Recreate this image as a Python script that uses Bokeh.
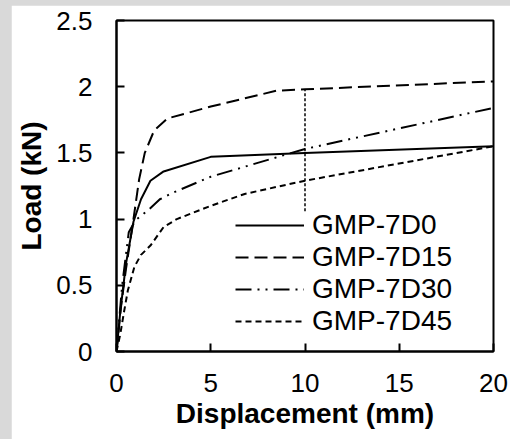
from bokeh.plotting import figure
from bokeh.models import Range1d, FixedTicker, Legend, LegendItem, GlobalInlineStyleSheet
from bokeh.embed import file_html
from bokeh.resources import INLINE

# Data
d0_x = [0, 0.2, 0.5, 0.9, 1.3, 1.8, 2.5, 5, 10, 20]
d0_y = [0, 0.3, 0.66, 0.98, 1.15, 1.29, 1.36, 1.47, 1.50, 1.55]

d15_x = [0, 0.25, 0.5, 0.9, 1.2, 1.5, 2.0, 2.7, 5, 8.5, 10, 20]
d15_y = [0, 0.35, 0.62, 1.0, 1.3, 1.5, 1.67, 1.76, 1.85, 1.97, 1.98, 2.04]

d30_x = [0, 0.3, 0.65, 1.0, 1.7, 2.3, 3, 5, 10, 20]
d30_y = [0, 0.5, 0.9, 0.99, 1.07, 1.15, 1.2, 1.32, 1.53, 1.84]

d45_x = [0, 0.2, 0.4, 0.6, 0.95, 1.3, 1.8, 2.5, 3.2, 5, 6.8, 10, 20]
d45_y = [0, 0.13, 0.3, 0.46, 0.64, 0.73, 0.8, 0.94, 1.0, 1.1, 1.19, 1.29, 1.55]

marker_x = [10, 10]
marker_y = [1.06, 1.98]

labels = ["GMP-7D0", "GMP-7D15", "GMP-7D30", "GMP-7D45"]
x_ticks = [0, 5, 10, 15, 20]
y_ticks = [0, 0.5, 1, 1.5, 2, 2.5]

FONT = "Liberation Sans"

p = figure(width=499, height=434, output_backend="svg", toolbar_location=None,
           x_range=Range1d(0, 20), y_range=Range1d(0, 2.5),
           min_border_left=105, min_border_right=17, min_border_top=15, min_border_bottom=88)
p.stylesheets.append(GlobalInlineStyleSheet(css="body{background:#d9d9d9;margin:5px 0 0 11px;}"))
p.background_fill_color = "white"
p.border_fill_color = "white"
p.outline_line_color = "black"
p.outline_line_width = 2
p.grid.visible = False

for ax in (p.xaxis[0], p.yaxis[0]):
    ax.axis_line_width = 2
    ax.axis_line_color = "black"
    ax.major_tick_in = 8
    ax.major_tick_out = 0
    ax.major_tick_line_width = 2
    ax.minor_tick_line_color = None
    ax.major_label_text_font = FONT
    ax.major_label_text_font_size = "26px"
    ax.major_label_text_color = "black"
    ax.axis_label_text_font = FONT
    ax.axis_label_text_font_size = "28px"
    ax.axis_label_text_font_style = "bold"
    ax.axis_label_text_color = "black"

p.xaxis.ticker = FixedTicker(ticks=x_ticks)
p.yaxis.ticker = FixedTicker(ticks=y_ticks)
p.xaxis.axis_label = "Displacement (mm)"
p.yaxis.axis_label = "Load (kN)"
p.xaxis.major_label_standoff = 22
p.xaxis.axis_label_standoff = 3
p.yaxis.major_label_standoff = 24
p.yaxis.axis_label_standoff = 6

r0 = p.line(d0_x, d0_y, line_color="black", line_width=2)
r15 = p.line(d15_x, d15_y, line_color="black", line_width=2, line_dash="13 6")
r30 = p.line(d30_x, d30_y, line_color="black", line_width=2, line_dash="16 6 2 6 2 6")
r45 = p.line(d45_x, d45_y, line_color="black", line_width=2, line_dash="6 4")
p.line(marker_x, marker_y, line_color="black", line_width=1.5, line_dash="3 2")

legend = Legend(items=[LegendItem(label=labels[0], renderers=[r0]),
                       LegendItem(label=labels[1], renderers=[r15]),
                       LegendItem(label=labels[2], renderers=[r30]),
                       LegendItem(label=labels[3], renderers=[r45])],
                location=(119, 14), orientation="vertical")
legend.background_fill_alpha = 0
legend.border_line_color = None
legend.padding = 0
legend.margin = 0
legend.spacing = -1
legend.glyph_width = 69
legend.glyph_height = 20
legend.label_height = 20
legend.label_standoff = 8
legend.label_text_font = FONT
legend.label_text_font_size = "28px"
legend.label_text_color = "black"
p.add_layout(legend)

open("out.html", "w").write(file_html(p, INLINE))
